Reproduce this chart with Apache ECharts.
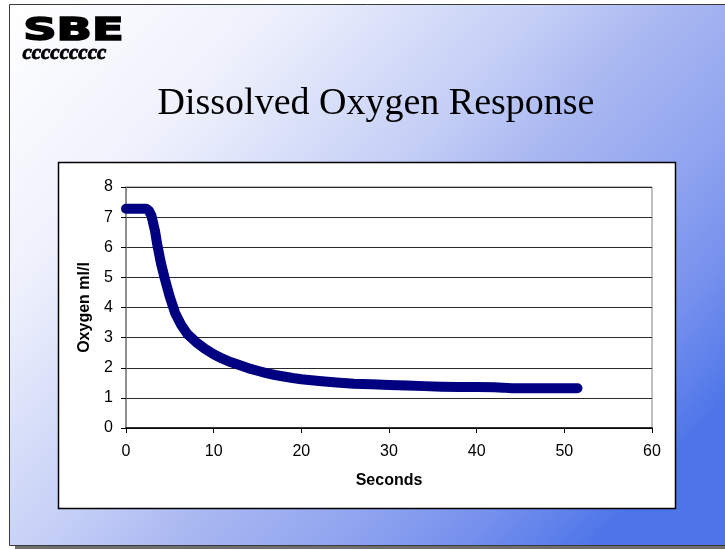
<!DOCTYPE html>
<html>
<head>
<meta charset="utf-8">
<script src="https://cdn.jsdelivr.net/npm/echarts@6/dist/echarts.min.js"></script>
<style>
html,body{margin:0;padding:0;background:#ffffff;}
#chart{width:725px;height:550px;}
</style>
</head>
<body>
<div id="chart"></div>
<script>
// Data
var seconds = [0,0.5,1,1.5,2,2.3,2.6,2.9,3.1,3.3,3.6,4.0,4.45,5.0,5.6,6.3,7,8,9,10,11,12,13,14,15,16,17,18,19,20,22,24,26,28,30,32,34,36,38,40,42,43,44,46,48,50,51.5];
var oxygen  = [7.28,7.28,7.28,7.28,7.28,7.28,7.22,7.05,6.8,6.55,6.03,5.45,4.93,4.35,3.82,3.42,3.12,2.85,2.63,2.45,2.3,2.18,2.08,1.98,1.9,1.82,1.76,1.71,1.66,1.62,1.56,1.51,1.47,1.45,1.43,1.41,1.39,1.37,1.36,1.36,1.35,1.34,1.32,1.32,1.32,1.32,1.32];
var xTicks = [0,10,20,30,40,50,60];
var yTicks = [0,1,2,3,4,5,6,7,8];
var titleText = 'Dissolved Oxygen Response';
var xName = 'Seconds';
var yName = 'Oxygen ml/l';

var points = seconds.map(function(t,i){return [t, oxygen[i]];});

var chart = echarts.init(document.getElementById('chart'), null, {renderer:'canvas'});
var option = {
  backgroundColor: '#ffffff',
  animation: false,
  graphic: [
    {type:'rect', z:-30, shape:{x:15,y:10,width:720,height:539}, style:{fill:'#6e6e6e'}},
    {type:'rect', z:-20, shape:{x:9.5,y:4.5,width:730,height:541},
      style:{fill:new echarts.graphic.LinearGradient(0,0,0.8,1,[
        {offset:0,color:'#ffffff'},
        {offset:0.25,color:'#eef1fc'},
        {offset:0.49,color:'#c5cff6'},
        {offset:0.61,color:'#aab8f1'},
        {offset:0.76,color:'#90a5f0'},
        {offset:0.88,color:'#7590ed'},
        {offset:1,color:'#4d75e8'}]), stroke:'#3a3a3a', lineWidth:1}},
    {type:'rect', z:-10, shape:{x:58.5,y:162.5,width:617,height:346}, style:{fill:'#ffffff', stroke:'#000000', lineWidth:1.5}},
    {type:'text', z:5, left:22, top:15, scaleX:1.45, style:{text:'SBE', font:'900 32px "DejaVu Sans"', fill:'#000000', stroke:'#000000', lineWidth:1.6}},
    {type:'text', z:5, left:22, top:43, style:{text:'ccccccccc', font:'italic bold 21px "Liberation Serif"', fill:'#000000', stroke:'#000000', lineWidth:0.8}},
    {type:'text', z:5, x:376, y:104, style:{text:titleText, font:'38px "Liberation Serif"', fill:'#000000', align:'center', verticalAlign:'middle'}}
  ],
  grid: {left:126, top:187, width:526, height:241, show:true, backgroundColor:'#ffffff', borderColor:'#808080', borderWidth:1},
  xAxis: {
    type:'value', min:0, max:60, interval:10,
    name:xName, nameLocation:'middle', nameGap:45,
    nameTextStyle:{fontFamily:'Liberation Sans', fontWeight:'bold', fontSize:16, color:'#000'},
    axisLine:{show:true, lineStyle:{color:'#000', width:1.5}},
    axisTick:{show:true, length:5, lineStyle:{color:'#000'}},
    axisLabel:{margin:16, fontFamily:'Liberation Sans', fontSize:16, color:'#000',
      formatter:function(v){return xTicks.indexOf(v)>=0 ? String(v) : '';}},
    splitLine:{show:false}
  },
  yAxis: {
    type:'value', min:0, max:8, interval:1,
    name:yName, nameLocation:'middle', nameGap:33, nameRotate:90,
    nameTextStyle:{fontFamily:'Liberation Sans', fontWeight:'bold', fontSize:16, color:'#000'},
    axisLine:{show:true, lineStyle:{color:'#808080', width:1.5}},
    axisTick:{show:true, length:5, lineStyle:{color:'#000'}},
    axisLabel:{margin:13, fontFamily:'Liberation Sans', fontSize:16, color:'#000',
      formatter:function(v){return yTicks.indexOf(v)>=0 ? String(v) : '';}},
    splitLine:{show:true, lineStyle:{color:'#2a2a2a', width:1}}
  },
  series: [{
    type:'line', data:points,
    smooth:false,
    symbol:'diamond', symbolSize:9, showAllSymbol:true,
    itemStyle:{color:'#000080'},
    lineStyle:{color:'#000080', width:10, cap:'round', join:'round'},
    z:3
  }]
};
chart.setOption(option);
</script>
</body>
</html>
